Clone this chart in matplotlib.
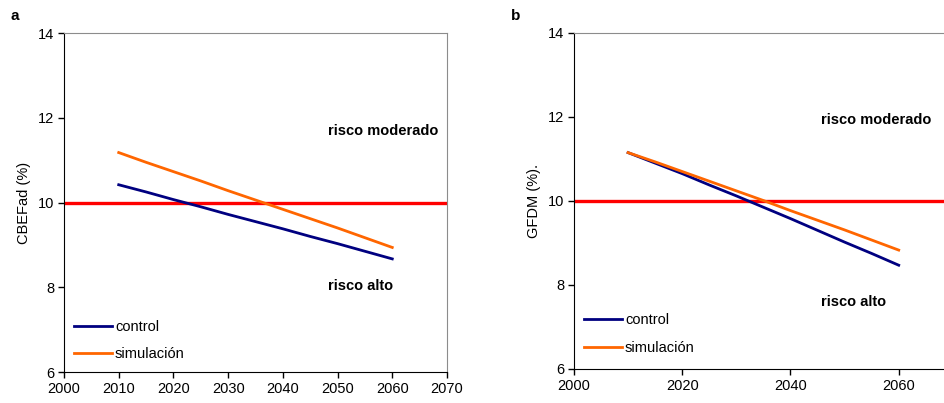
import numpy as np
import matplotlib.pyplot as plt

plt.rcParams['font.family'] = ['Liberation Sans', 'DejaVu Sans']

# data
years = [2010, 2015, 2020, 2025, 2030, 2035, 2040, 2045, 2050, 2055, 2060]
a_control = [10.42, 10.25, 10.07, 9.90, 9.72, 9.55, 9.38, 9.20, 9.03, 8.85, 8.67]
a_simul = [11.18, 10.95, 10.73, 10.51, 10.28, 10.06, 9.84, 9.62, 9.40, 9.17, 8.94]
b_control = [11.15, 10.90, 10.65, 10.38, 10.12, 9.85, 9.58, 9.30, 9.02, 8.75, 8.47]
b_simul = [11.15, 10.93, 10.70, 10.47, 10.24, 10.01, 9.77, 9.54, 9.31, 9.07, 8.83]
threshold = 10
y_ticks = [6, 8, 10, 12, 14]
a_xticks = [2000, 2010, 2020, 2030, 2040, 2050, 2060, 2070]
b_xticks = [2000, 2020, 2040, 2060]

fig = plt.figure(figsize=(9.44, 4.03), dpi=100)
ax_a = fig.add_axes([0.0678, 0.0769, 0.4057, 0.841])
ax_b = fig.add_axes([0.608, 0.0844, 0.4587, 0.834])


def style(ax, xt, xlim, ylab, txt_x, moder_y, alto_y, leg_y):
    ax.set_xlim(*xlim)
    ax.set_ylim(6, 14)
    ax.set_xticks(xt)
    ax.set_yticks(y_ticks)
    ax.tick_params(direction='out', length=4, width=1, labelsize=10.5, pad=3)
    for s in ['top', 'right']:
        ax.spines[s].set_color('#8c8c8c')
    for s in ['left', 'bottom']:
        ax.spines[s].set_color('black')
    ax.set_ylabel(ylab, fontsize=10.5, labelpad=5)
    ax.axhline(threshold, color='#ff0000', lw=2.4, zorder=1)
    ax.text(txt_x, moder_y, 'risco moderado', transform=ax.transAxes,
            fontsize=10.5, fontweight='bold', va='center')
    ax.text(txt_x, alto_y, 'risco alto', transform=ax.transAxes,
            fontsize=10.5, fontweight='bold', va='center')
    ax.legend(loc='lower left', bbox_to_anchor=(0.0, leg_y), frameon=False,
              fontsize=10.5, handlelength=2.6, handletextpad=0.2,
              labelspacing=0.95, borderaxespad=0.3)


ax_a.plot(years, a_control, color='#000080', lw=2, label='control', zorder=3)
ax_a.plot(years, a_simul, color='#ff6600', lw=2, label='simulación', zorder=3)
style(ax_a, a_xticks, (2000, 2070), 'CBEFad (%)', 0.689, 0.71, 0.255, 0.001)

ax_b.plot(years, b_control, color='#000080', lw=2, label='control', zorder=3)
ax_b.plot(years, b_simul, color='#ff6600', lw=2, label='simulación', zorder=3)
style(ax_b, b_xticks, (2000, 2080), 'GFDM (%).', 0.57, 0.74, 0.2, 0.011)

fig.text(0.011, 0.95, 'a', fontsize=11, fontweight='bold')
fig.text(0.541, 0.95, 'b', fontsize=11, fontweight='bold')

fig.savefig('out.png', dpi=100)
